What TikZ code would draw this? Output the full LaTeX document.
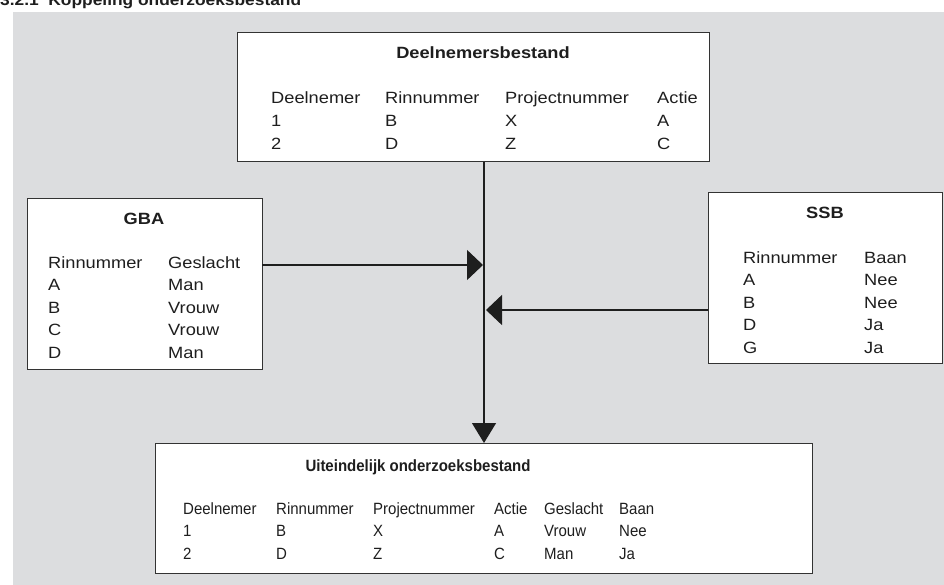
\documentclass[tikz,border=0pt]{standalone}
\usepackage{fontspec}
\setmainfont{Liberation Sans}
\newfontfamily\wideface[FakeStretch=1.12]{Liberation Sans}
\newfontfamily\narrowface[FakeStretch=0.92]{Liberation Sans}
\usetikzlibrary{arrows.meta}
\definecolor{bggray}{HTML}{DCDDDF}
\definecolor{edge}{HTML}{333333}
\definecolor{ink}{HTML}{1E1E1E}
\tikzset{
  tbox/.style={draw=edge, line width=1pt, fill=white, inner sep=0pt, outer sep=0pt},
  cell/.style={anchor=base west, inner sep=0pt, text=ink, font=\wideface\fontsize{16.3}{18}\selectfont},
  ncell/.style={anchor=base west, inner sep=0pt, text=ink, font=\narrowface\fontsize{16.3}{18}\selectfont},
  ttl/.style={anchor=base, inner sep=0pt, text=ink, font=\wideface\bfseries\fontsize{16.3}{18}\selectfont},
  nttl/.style={anchor=base, inner sep=0pt, text=ink, font=\narrowface\bfseries\fontsize{16.3}{18}\selectfont},
  conn/.style={draw=ink, line width=1.3pt},
  bigtip/.style={-{Triangle[length=16pt,width=30pt]}},
  downtip/.style={-{Triangle[length=20pt,width=24pt]}},
}
\begin{document}
\begin{tikzpicture}[x=1pt,y=-1pt]
\useasboundingbox (0,0) rectangle (944,585);
\fill[bggray] (13,12) rectangle (944,585);
\node[anchor=base west, inner sep=0pt, text=ink, font=\wideface\bfseries\fontsize{15.5}{17}\selectfont] (heading) at (0,5.5) {3.2.1\ \ Koppeling onderzoeksbestand};

% boxes
\node[tbox, minimum width=472pt, minimum height=129pt] (deel) at (473,97.5) {};
\node[tbox, minimum width=235pt, minimum height=170pt] (gba) at (144.5,284) {};
\node[tbox, minimum width=234pt, minimum height=170pt] (ssb) at (825,278) {};
\node[tbox, minimum width=657pt, minimum height=130pt] (res) at (483.5,508) {};

% Deelnemersbestand
\node[ttl] (deelT) at (483,59) {Deelnemersbestand};
\foreach \t [count=\i] in {Deelnemer,1,2} \node[cell] (da\i) at (271,{104+23*(\i-1)}) {\t};
\foreach \t [count=\i] in {Rinnummer,B,D} \node[cell] (db\i) at (385,{104+23*(\i-1)}) {\t};
\foreach \t [count=\i] in {Projectnummer,X,Z} \node[cell] (dc\i) at (505,{104+23*(\i-1)}) {\t};
\foreach \t [count=\i] in {Actie,A,C} \node[cell] (dd\i) at (657,{104+23*(\i-1)}) {\t};

% GBA
\node[ttl] (gbaT) at (144,225) {GBA};
\foreach \t [count=\i] in {Rinnummer,A,B,C,D} \node[cell] (ga\i) at (48,{268+22.5*(\i-1)}) {\t};
\foreach \t [count=\i] in {Geslacht,Man,Vrouw,Vrouw,Man} \node[cell] (gb\i) at (168,{268+22.5*(\i-1)}) {\t};

% SSB
\node[ttl] (ssbT) at (825,219) {SSB};
\foreach \t [count=\i] in {Rinnummer,A,B,D,G} \node[cell] (sa\i) at (743,{263+22.5*(\i-1)}) {\t};
\foreach \t [count=\i] in {Baan,Nee,Nee,Ja,Ja} \node[cell] (sb\i) at (864,{263+22.5*(\i-1)}) {\t};

% Result
\node[nttl] (resT) at (418,471) {Uiteindelijk onderzoeksbestand};
\foreach \t [count=\i] in {Deelnemer,1,2} \node[ncell] (ra\i) at (183,{514+22.5*(\i-1)}) {\t};
\foreach \t [count=\i] in {Rinnummer,B,D} \node[ncell] (rb\i) at (276,{514+22.5*(\i-1)}) {\t};
\foreach \t [count=\i] in {Projectnummer,X,Z} \node[ncell] (rc\i) at (373,{514+22.5*(\i-1)}) {\t};
\foreach \t [count=\i] in {Actie,A,C} \node[ncell] (rd\i) at (494,{514+22.5*(\i-1)}) {\t};
\foreach \t [count=\i] in {Geslacht,Vrouw,Man} \node[ncell] (re\i) at (544,{514+22.5*(\i-1)}) {\t};
\foreach \t [count=\i] in {Baan,Nee,Ja} \node[ncell] (rf\i) at (619,{514+22.5*(\i-1)}) {\t};

% connectors
\coordinate (vx) at (484,0);
\coordinate (j1) at (483,265);
\coordinate (j2) at (486,310);
\draw[conn, downtip] (deel.south -| vx) -- (res.north -| vx);
\draw[conn, bigtip] (gba.east |- j1) -- (j1);
\draw[conn, bigtip] (ssb.west |- j2) -- (j2);
\end{tikzpicture}
\end{document}
